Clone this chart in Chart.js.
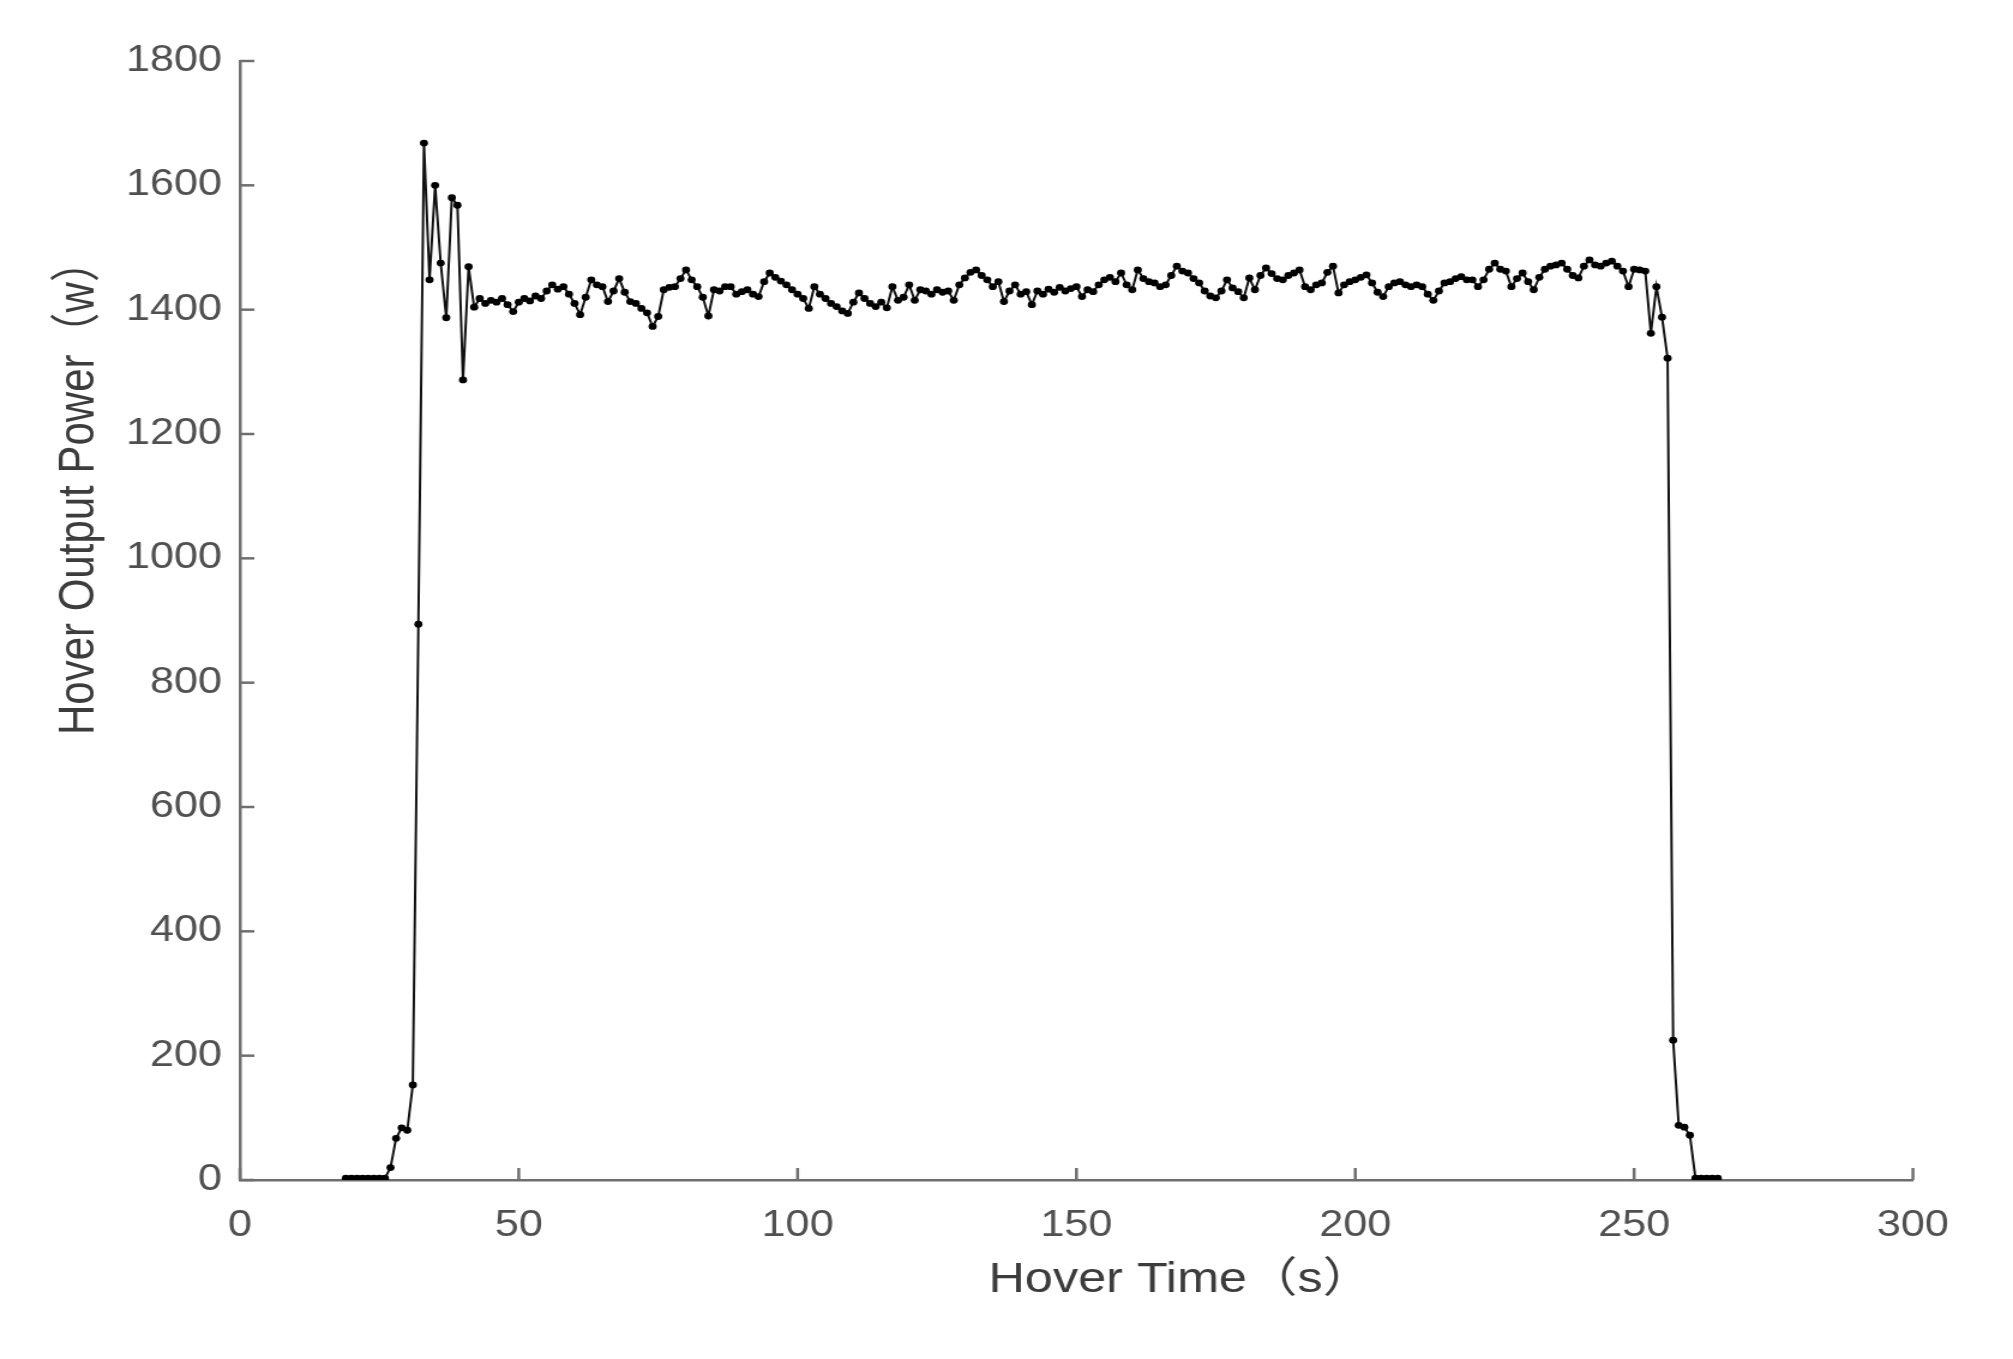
<!DOCTYPE html>
<html>
<head>
<meta charset="utf-8">
<title>Hover Output Power</title>
<script src="https://cdn.jsdelivr.net/npm/chart.js@4.4.1/dist/chart.umd.min.js"></script>
<style>
  html, body { margin: 0; padding: 0; background: #fff; overflow: hidden; }
  /* the source image is stretched sideways, so the canvas is too */
  #powerChart { position: absolute; left: 0; top: 0; transform: scaleX(1.19964); transform-origin: 0 0; }
</style>
</head>
<body>
<canvas id="powerChart" width="1678" height="1359"></canvas>
<script>
// hover time (s)
const tiempos = [
  19, 20, 21, 22, 23, 24, 25, 26,
  27, 28, 29, 30, 31, 32, 33, 34, 35, 36, 37, 38, 39, 40, 41,
  42, 43, 44, 45, 46, 47, 48, 49, 50, 51, 52, 53, 54, 55, 56, 57, 58, 59, 60, 61,
  62, 63, 64, 65, 66, 67, 68, 69, 70, 71, 72, 73, 74, 75, 76, 77, 78, 79, 80, 81,
  82, 83, 84, 85, 86, 87, 88, 89, 90, 91, 92, 93, 94, 95, 96, 97, 98, 99, 100, 101,
  102, 103, 104, 105, 106, 107, 108, 109, 110, 111, 112, 113, 114, 115, 116, 117, 118, 119, 120, 121,
  122, 123, 124, 125, 126, 127, 128, 129, 130, 131, 132, 133, 134, 135, 136, 137, 138, 139, 140, 141,
  142, 143, 144, 145, 146, 147, 148, 149, 150, 151, 152, 153, 154, 155, 156, 157, 158, 159, 160, 161,
  162, 163, 164, 165, 166, 167, 168, 169, 170, 171, 172, 173, 174, 175, 176, 177, 178, 179, 180, 181,
  182, 183, 184, 185, 186, 187, 188, 189, 190, 191, 192, 193, 194, 195, 196, 197, 198, 199, 200, 201,
  202, 203, 204, 205, 206, 207, 208, 209, 210, 211, 212, 213, 214, 215, 216, 217, 218, 219, 220, 221,
  222, 223, 224, 225, 226, 227, 228, 229, 230, 231, 232, 233, 234, 235, 236, 237, 238, 239, 240, 241,
  242, 243, 244, 245, 246, 247, 248, 249, 250, 251, 252, 253, 254, 255, 256, 257, 258, 259, 260, 261,
  262, 263, 264, 265
];

// hover output power (w)
const potencia = [
  3, 3, 3, 3, 3, 3, 3, 3,
  20, 67, 84, 80, 153, 894, 1668, 1448, 1600, 1475, 1387, 1580, 1568, 1287, 1469,
  1404, 1418, 1410, 1415, 1412, 1418, 1408, 1397, 1412, 1418, 1414, 1422, 1418, 1430, 1440, 1433, 1437, 1425, 1410, 1392,
  1420, 1448, 1440, 1437, 1413, 1430, 1450, 1428, 1413, 1410, 1402, 1395, 1373, 1389, 1432, 1436, 1437, 1450, 1464, 1448,
  1437, 1420, 1390, 1432, 1430, 1437, 1437, 1425, 1429, 1432, 1425, 1421, 1445, 1459, 1452, 1446, 1440, 1432, 1425, 1418,
  1402, 1437, 1425, 1418, 1410, 1405, 1398, 1394, 1412, 1427, 1418, 1410, 1405, 1412, 1403, 1437, 1415, 1420, 1440, 1415,
  1432, 1430, 1425, 1432, 1428, 1430, 1415, 1440, 1451, 1460, 1464, 1455, 1448, 1437, 1445, 1413, 1430, 1440, 1425, 1429,
  1408, 1430, 1425, 1433, 1428, 1436, 1430, 1434, 1437, 1421, 1432, 1429, 1440, 1448, 1452, 1445, 1459, 1440, 1432, 1464,
  1450, 1445, 1443, 1437, 1440, 1455, 1470, 1462, 1459, 1450, 1443, 1430, 1422, 1419, 1430, 1448, 1435, 1429, 1419, 1451,
  1432, 1455, 1467, 1458, 1450, 1448, 1455, 1459, 1464, 1437, 1432, 1440, 1443, 1460, 1470, 1427, 1440, 1445, 1448, 1452,
  1456, 1443, 1428, 1421, 1437, 1443, 1445, 1440, 1437, 1440, 1437, 1425, 1415, 1430, 1443, 1445, 1450, 1453, 1448, 1448,
  1437, 1448, 1465, 1475, 1465, 1462, 1437, 1450, 1459, 1445, 1432, 1452, 1465, 1470, 1472, 1475, 1465, 1455, 1451, 1470,
  1480, 1472, 1470, 1475, 1478, 1470, 1462, 1437, 1465, 1464, 1462, 1362, 1437, 1388, 1322, 225, 88, 85, 72, 3,
  3, 3, 3, 3
];

const ticksX = [0, 50, 100, 150, 200, 250, 300];
const ticksY = [0, 200, 400, 600, 800, 1000, 1200, 1400, 1600, 1800];

const tituloX = "Hover Time（s）";
const tituloY = "Hover Output Power（w）";

const colorEje = "#6f6f6f";
const colorTexto = "#505050";
const colorTitulo = "#3c3c3c";
const fuente = '"Liberation Sans", Arial, "Noto Sans CJK SC", sans-serif';

// MATLAB style: ticks point into the plot, titles sit where the picture has them
const ejesMatlab = {
  id: "ejesMatlab",
  afterDraw(chart) {
    const { ctx, chartArea, scales } = chart;
    ctx.save();
    ctx.strokeStyle = colorEje;
    ctx.lineWidth = 2.5;
    ticksY.forEach((v) => {
      const y = scales.y.getPixelForValue(v);
      ctx.beginPath();
      ctx.moveTo(chartArea.left, y);
      ctx.lineTo(chartArea.left + 12, y);
      ctx.stroke();
    });
    ticksX.forEach((v) => {
      const x = scales.x.getPixelForValue(v);
      ctx.beginPath();
      ctx.moveTo(x, chartArea.bottom);
      ctx.lineTo(x, chartArea.bottom - 12);
      ctx.stroke();
    });

    ctx.fillStyle = colorTitulo;
    ctx.font = "42px " + fuente;
    ctx.textBaseline = "middle";
    ctx.textAlign = "left";
    ctx.fillText(tituloX, 824, 1280);
    ctx.translate(66, 735);
    ctx.rotate(-Math.PI / 2);
    ctx.fillText(tituloY, 0, 0);
    ctx.restore();
  },
};

const ctx = document.getElementById("powerChart").getContext("2d");
new Chart(ctx, {
  type: "line",
  data: {
    labels: tiempos,
    datasets: [
      {
        label: "Hover Output Power",
        data: potencia,
        borderColor: "#111111",
        borderWidth: 2,
        pointRadius: 3.4,
        pointBackgroundColor: "#000000",
        pointBorderWidth: 0,
        tension: 0,
        fill: false,
      },
    ],
  },
  options: {
    responsive: false,
    animation: false,
    devicePixelRatio: 1,
    layout: { padding: { left: 0, right: 83.4, top: 61, bottom: 0 } },
    plugins: {
      legend: { display: false },
      tooltip: { enabled: false },
    },
    scales: {
      x: {
        type: "linear",
        min: 0,
        max: 300,
        afterBuildTicks: (s) => { s.ticks = ticksX.map((v) => ({ value: v })); },
        afterFit: (s) => { s.height = 179; },
        grid: { drawOnChartArea: false, drawTicks: false },
        border: { display: true, color: colorEje, width: 2.5 },
        ticks: { color: colorTexto, font: { family: fuente, size: 36 }, padding: 24, maxRotation: 0, callback: (v) => String(v) },
      },
      y: {
        type: "linear",
        min: 0,
        max: 1800,
        afterBuildTicks: (s) => { s.ticks = ticksY.map((v) => ({ value: v })); },
        afterFit: (s) => { s.width = 200; },
        grid: { drawOnChartArea: false, drawTicks: false },
        border: { display: true, color: colorEje, width: 2.5 },
        ticks: { color: colorTexto, font: { family: fuente, size: 36 }, padding: 15, callback: (v) => String(v) },
      },
    },
  },
  plugins: [ejesMatlab],
});
</script>
</body>
</html>
